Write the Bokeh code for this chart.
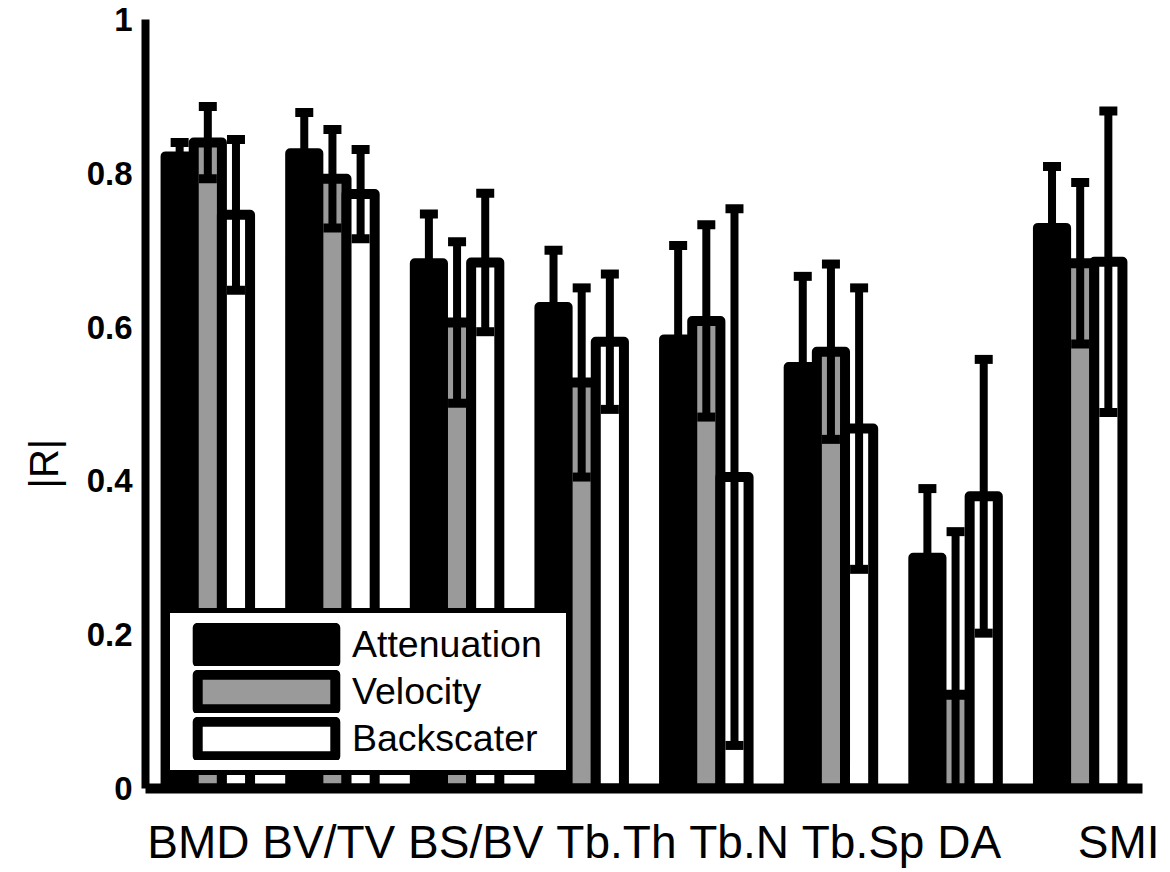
from bokeh.plotting import figure
from bokeh.models import Range1d, FixedTicker, Legend, LegendItem, Title
from bokeh.embed import file_html
from bokeh.resources import INLINE

# ---- data ----
categories = ["BMD", "BV/TV", "BS/BV", "Tb.Th", "Tb.N", "Tb.Sp", "DA", "SMI"]
attenuation = [0.822, 0.826, 0.683, 0.626, 0.584, 0.548, 0.300, 0.729]
attenuation_sd = [0.018, 0.053, 0.064, 0.074, 0.122, 0.118, 0.090, 0.080]
velocity = [0.840, 0.793, 0.606, 0.528, 0.608, 0.568, 0.122, 0.683]
velocity_sd = [0.047, 0.064, 0.105, 0.123, 0.125, 0.114, 0.212, 0.105]
backscatter = [0.746, 0.773, 0.684, 0.581, 0.405, 0.468, 0.380, 0.685]
backscatter_sd = [0.098, 0.058, 0.090, 0.088, 0.349, 0.183, 0.178, 0.196]
series_names = ["Attenuation", "Velocity", "Backscater"]
series_colors = ["#000000", "#9a9a9a", "#ffffff"]
y_tick_values = [0, 0.2, 0.4, 0.6, 0.8, 1.0]
y_tick_labels = ["0", "0.2", "0.4", "0.6", "0.8", "1"]
y_title = "|R|"

FONT = "Liberation Sans"
BAR_W = 0.226

p = figure(width=1160, height=872, output_backend="svg", toolbar_location=None,
           x_range=Range1d(0.5, len(categories) + 0.5), y_range=Range1d(0, 1),
           min_border_left=145, min_border_right=18, min_border_top=19,
           min_border_bottom=84)
p.outline_line_color = None
p.xgrid.visible = False
p.ygrid.visible = False
p.background_fill_color = "white"

all_series = [(attenuation, attenuation_sd), (velocity, velocity_sd),
              (backscatter, backscatter_sd)]

renderers = []
positions = []
for i, (vals, sds) in enumerate(all_series):
    xs = [k + 1 + (i - 1) * BAR_W for k in range(len(categories))]
    positions.append(xs)
    r = p.vbar(x=xs, top=vals, bottom=0, width=BAR_W,
               fill_color=series_colors[i], line_color="black",
               line_width=10, line_join="round")
    renderers.append(r)

for i, (vals, sds) in enumerate(all_series):
    xs = positions[i]
    lo = [v - s for v, s in zip(vals, sds)]
    hi = [v + s for v, s in zip(vals, sds)]
    p.segment(x0=xs, y0=lo, x1=xs, y1=hi, line_color="black", line_width=8)
    p.rect(x=xs, y=hi, width=18, height=9, width_units="screen",
           height_units="screen", fill_color="black", line_color=None)
    p.rect(x=xs, y=lo, width=18, height=9, width_units="screen",
           height_units="screen", fill_color="black", line_color=None)

# x axis: the category names form one text line under the axis
sep = "\u00a0"
cat_line = sep.join(categories[:-1]) + sep * 6 + categories[-1]
cat_tick = (p.x_range.start + p.x_range.end) / 2 + 0.076
xa = p.xaxis[0]
xa.ticker = FixedTicker(ticks=[cat_tick])
xa.major_label_overrides = {cat_tick: cat_line}
xa.axis_line_width = 10
xa.axis_line_color = "black"
xa.major_tick_line_color = None
xa.minor_tick_line_color = None
xa.major_tick_out = 0
xa.major_label_standoff = 27
xa.major_label_text_font = FONT
xa.major_label_text_font_size = "46px"
xa.major_label_text_color = "black"

ya = p.yaxis[0]
ya.ticker = FixedTicker(ticks=y_tick_values)
ya.major_label_overrides = {v: l for v, l in zip(y_tick_values, y_tick_labels)}
ya.axis_line_width = 8
ya.axis_line_color = "black"
ya.major_tick_line_color = None
ya.minor_tick_line_color = None
ya.major_tick_out = 0
ya.major_label_standoff = 13
ya.major_label_text_font = FONT
ya.major_label_text_font_size = "33px"
ya.major_label_text_font_style = "bold"
ya.major_label_text_color = "black"

# y title in the left panel, shifted along the axis to where the reference has it
p.add_layout(Title(text=y_title, align="left", offset=300, standoff=36,
                   text_font=FONT, text_font_size="40px",
                   text_font_style="normal", text_color="black"), "left")

legend = Legend(items=[LegendItem(label=n, renderers=[r])
                       for n, r in zip(series_names, renderers)],
                location=(20, 13))
legend.glyph_width = 172
legend.glyph_height = 43
legend.label_height = 43
legend.label_width = 204
legend.label_standoff = 0
legend.spacing = 4
legend.padding = 10
legend.margin = 0
legend.border_line_color = "black"
legend.border_line_alpha = 1.0
legend.border_line_width = 5
legend.background_fill_color = "white"
legend.background_fill_alpha = 1
legend.label_text_font = FONT
legend.label_text_font_size = "37.5px"
legend.label_text_color = "black"
p.add_layout(legend)

open("out.html", "w").write(file_html(p, INLINE))
